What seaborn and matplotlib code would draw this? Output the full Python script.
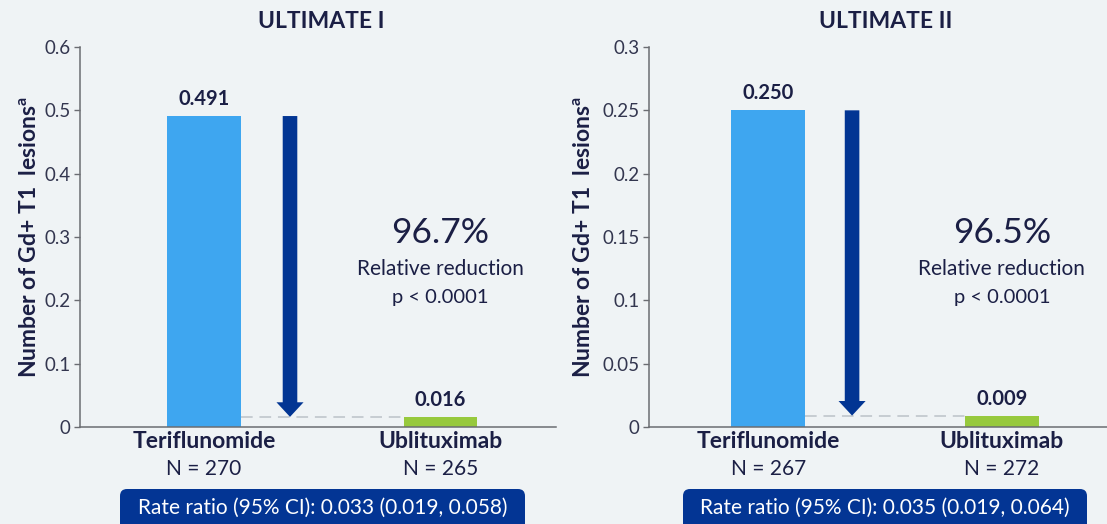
import matplotlib
matplotlib.use("Agg")
import matplotlib.pyplot as plt
import matplotlib.transforms as mtransforms
from matplotlib.patches import FancyBboxPatch
import seaborn as sns
import pandas as pd

# ---- data -------------------------------------------------------------
treatments = ["Teriflunomide", "Ublituximab"]
trials = ["ULTIMATE I", "ULTIMATE II"]
lesions_ult1 = [0.491, 0.016]
lesions_ult2 = [0.250, 0.009]
n_ult1 = [270, 265]
n_ult2 = [267, 272]
reductions = ["96.7%", "96.5%"]
p_values = ["p < 0.0001", "p < 0.0001"]
rate_ratios = ["Rate ratio (95% CI): 0.033 (0.019, 0.058)",
               "Rate ratio (95% CI): 0.035 (0.019, 0.064)"]
y_ticks_ult1 = [0, 0.1, 0.2, 0.3, 0.4, 0.5, 0.6]
y_ticks_ult2 = [0, 0.05, 0.1, 0.15, 0.2, 0.25, 0.3]

# ---- style ------------------------------------------------------------
BG = "#eff3f5"
NAVY_TEXT = "#1b1f45"
TICK_TEXT = "#33364f"
BAR_COLORS = ["#3ea6f0", "#97c93d"]
ARROW = "#023593"
BOX = "#033594"
SPINE = "#6b6d72"

sns.set_theme(style="ticks")
plt.rcParams["font.family"] = ["Lato", "DejaVu Sans"]
plt.rcParams["mathtext.fontset"] = "custom"
plt.rcParams["mathtext.rm"] = "Lato"
plt.rcParams["mathtext.bf"] = "Lato:bold"

W, H = 1107, 524
fig = plt.figure(figsize=(W / 100, H / 100), dpi=100, facecolor=BG)


def px_axes(x0, x1, y_top, y_bottom):
    return fig.add_axes([x0 / W, (H - y_bottom) / H, (x1 - x0) / W, (y_bottom - y_top) / H])


panels = [
    dict(ax=px_axes(80, 556, 47, 427), vals=lesions_ult1, ns=n_ult1, ticks=y_ticks_ult1,
         xlim=(-0.525, 1.49), bar_w=0.31, arrow_x=0.364, title_x=321, text_x=1.0,
         box=(120, 525), ylab_x=30),
    dict(ax=px_axes(649, 1107, 47, 427), vals=lesions_ult2, ns=n_ult2, ticks=y_ticks_ult2,
         xlim=(-0.51, 1.45), bar_w=0.316, arrow_x=0.359, title_x=886, text_x=1.0,
         box=(683, 1087), ylab_x=584),
]

for i, p in enumerate(panels):
    ax = p["ax"]
    ax.set_facecolor(BG)
    df = pd.DataFrame({"treatment": treatments, "lesions": p["vals"]})
    sns.barplot(data=df, x="treatment", y="lesions", hue="treatment",
                palette=BAR_COLORS, width=p["bar_w"], legend=False,
                saturation=1, linewidth=0, edgecolor="none", ax=ax)
    ax.set_xlim(*p["xlim"])
    ax.set_ylim(0, p["ticks"][-1])
    ax.set_yticks(p["ticks"])
    ax.set_yticklabels([f"{t:g}" for t in p["ticks"]], fontsize=13.5, color=TICK_TEXT)
    ax.tick_params(axis="y", length=4, width=1, color=SPINE, pad=3)
    ax.set_xticks([])
    ax.set_xlabel("")
    ax.set_ylabel("")
    for side in ("top", "right"):
        ax.spines[side].set_visible(False)
    for side in ("left", "bottom"):
        ax.spines[side].set_color(SPINE)
        ax.spines[side].set_linewidth(1.1)

    hi, lo = p["vals"]
    w = p["bar_w"]
    # value labels above bars
    for x, v in enumerate(p["vals"]):
        ax.annotate(f"{v:.3f}", xy=(x, v), xytext=(0, 5), textcoords="offset points",
                    ha="center", va="bottom", fontsize=14.5, fontweight="bold",
                    color=NAVY_TEXT)
    # dashed reference line at the lower bar's height
    ax.plot([w / 2, 1 - w / 2], [lo, lo], color="#c6ccd2", lw=1.4,
            ls=(0, (6, 3.5)), zorder=1)
    # reduction arrow
    ax.annotate("", xy=(p["arrow_x"], lo), xytext=(p["arrow_x"], hi),
                arrowprops=dict(arrowstyle="simple,head_width=19.5,head_length=10.5,tail_width=10.5",
                                mutation_scale=1, color=ARROW, lw=0,
                                shrinkA=0, shrinkB=0))
    # relative reduction text
    ymax = p["ticks"][-1]
    ax.text(p["text_x"], ymax * (427 - 233) / 380, reductions[i], ha="center",
            va="center", fontsize=25.5, color=NAVY_TEXT)
    ax.text(p["text_x"], ymax * (427 - 269) / 380, "Relative reduction", ha="center",
            va="center", fontsize=15, color=NAVY_TEXT)
    ax.text(p["text_x"], ymax * (427 - 297) / 380, p_values[i], ha="center",
            va="center", fontsize=14.5, color=NAVY_TEXT)

    # category labels below the axis
    tr = ax.get_xaxis_transform()
    for x, (name, n) in enumerate(zip(treatments, p["ns"])):
        ax.text(x, (427 - 441) / 380, name, transform=tr, ha="center", va="center",
                fontsize=16.5, fontweight="bold", color=NAVY_TEXT, clip_on=False)
        ax.text(x, (427 - 469) / 380, f"N = {n}", transform=tr, ha="center",
                va="center", fontsize=15, color=NAVY_TEXT, clip_on=False)

    # panel title
    fig.text(p["title_x"] / W, (H - 22) / H, trials[i], ha="center", va="center",
             fontsize=16.5, fontweight="bold", color=NAVY_TEXT)

    # y-axis label
    fig.text(p["ylab_x"] / W, (H - 237) / H,
             r"Number of Gd+ T1  lesions$^{\mathbf{a}}$", rotation=90,
             ha="center", va="center", fontsize=16.5, fontweight="bold", color=NAVY_TEXT)

    # rate ratio box
    bx0, bx1 = p["box"]
    box = FancyBboxPatch((bx0, -10), bx1 - bx0, (H - 489) + 10,
                         boxstyle="round,pad=0,rounding_size=7",
                         transform=mtransforms.IdentityTransform(),
                         facecolor=BOX, edgecolor="none")
    fig.patches.append(box)
    fig.text(((bx0 + bx1) / 2) / W, (H - 508) / H, rate_ratios[i], ha="center",
             va="center", fontsize=15, color="white")

fig.savefig("out.png", dpi=100, facecolor=BG)
